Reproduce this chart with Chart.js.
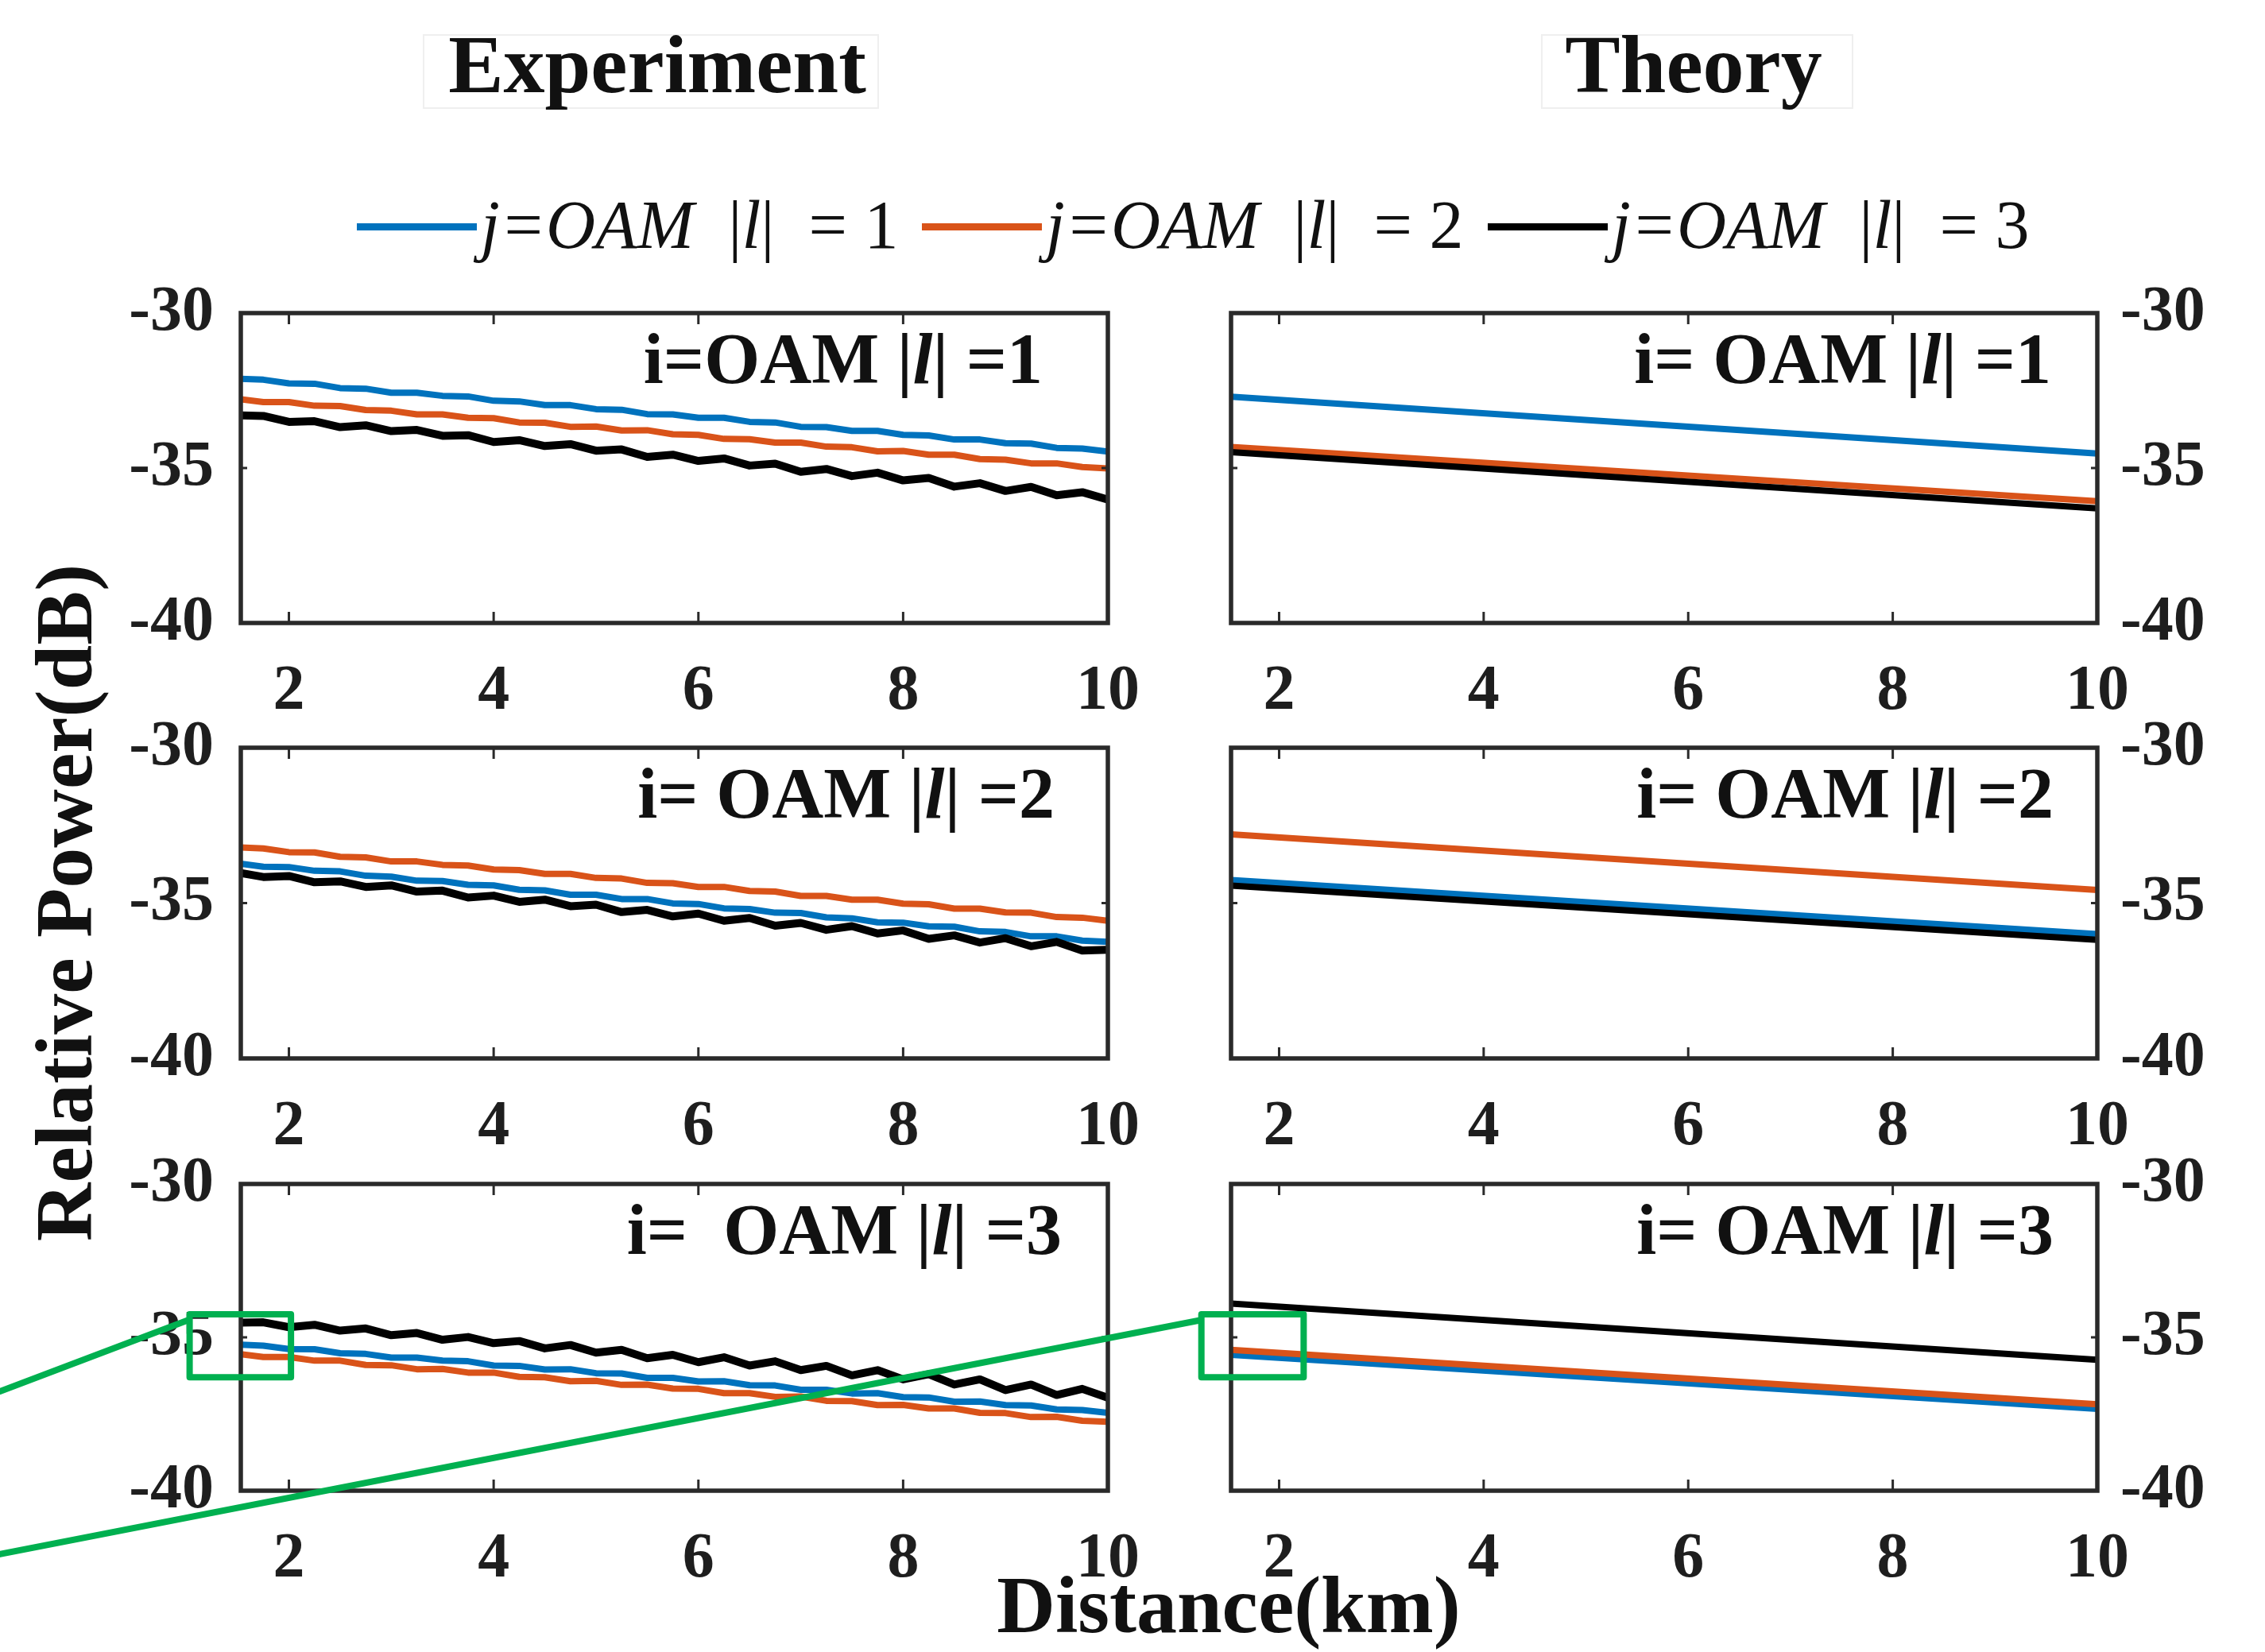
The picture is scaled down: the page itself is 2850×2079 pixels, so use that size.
<!DOCTYPE html>
<html>
<head>
<meta charset="utf-8">
<title>Relative power vs distance</title>
<script src="https://cdn.jsdelivr.net/npm/chart.js@4.4.0/dist/chart.umd.min.js"></script>
<style>
  html, body { margin: 0; padding: 0; background: #fff; }
  #page { position: relative; width: 2850px; height: 2079px; overflow: hidden; background: #fff;
          font-family: "Liberation Serif", "Times New Roman", serif; color: #111; }
  #page canvas { position: absolute; }
  .title { position: absolute; top: 29px; font-weight: bold; font-size: 104px; line-height: 1;
           transform: translateX(-50%); white-space: pre; }
  .titlebox { position: absolute; border: 2px solid #efefef; }
  .leg { position: absolute; top: 240px; height: 86px; display: flex; align-items: flex-start; }
  .leg .swatch { width: 151px; height: 9px; margin-top: 41px; margin-right: 5px; }
  .leg .txt { font-size: 86px; line-height: 1; white-space: pre; }
  .axis-x { position: absolute; left: 1546px; top: 1969px; font-weight: bold; font-size: 102px;
            line-height: 1; transform: translateX(-50%); white-space: pre; }
  .axis-y { position: absolute; left: 81px; top: 1136px; font-weight: bold; font-size: 102px;
            line-height: 1; transform: translate(-50%, -50%) rotate(-90deg); white-space: pre; }
  #overlay { z-index: 10; pointer-events: none; }
</style>
</head>
<body>
<div id="page">
  <div class="titlebox" style="left:532px; top:43px; width:570px; height:90px;"></div>
  <div class="titlebox" style="left:1939px; top:43px; width:389px; height:90px;"></div>
  <div class="title" style="left:827px;">Experiment</div>
  <div class="title" style="left:2131px;">Theory</div>
  <div id="legend"></div>
  <div class="axis-x">Distance(km)</div>
  <div class="axis-y">Relative Power(dB)</div>
</div>
<script>
// distance axis (km) and tick values
const xTicks = [2, 4, 6, 8, 10];
const yTicks = [-40, -35, -30];
const xMin = 1.53, xMax = 10;

// OAM modes: rows are the received mode i, series are the transmitted mode j
const modes = [1, 2, 3];
const seriesLabels = ['j=OAM |l| = 1', 'j=OAM |l| = 2', 'j=OAM |l| = 3'];
const colors = ['#0072BD', '#D95319', '#000000'];

// measured distances (km)
const xExp = [1.53, 1.75, 2, 2.25, 2.5, 2.75, 3, 3.25, 3.5, 3.75, 4, 4.25, 4.5, 4.75, 5, 5.25, 5.5,
  5.75, 6, 6.25, 6.5, 6.75, 7, 7.25, 7.5, 7.75, 8, 8.25, 8.5, 8.75, 9, 9.25, 9.5, 9.75, 10];

// experiment, i = 1
const expI1J1 = [-32.12, -32.15, -32.27, -32.28, -32.42, -32.44, -32.57, -32.57, -32.67, -32.69,
  -32.83, -32.85, -32.97, -32.97, -33.10, -33.12, -33.26, -33.27, -33.38, -33.38,
  -33.51, -33.53, -33.67, -33.68, -33.80, -33.80, -33.93, -33.95, -34.08, -34.08,
  -34.20, -34.21, -34.35, -34.37, -34.47];
const expI1J2 = [-32.78, -32.87, -32.87, -32.99, -33.00, -33.13, -33.15, -33.27, -33.27, -33.38,
  -33.39, -33.53, -33.54, -33.67, -33.66, -33.79, -33.78, -33.91, -33.93, -34.06,
  -34.07, -34.18, -34.18, -34.31, -34.33, -34.46, -34.45, -34.57, -34.57, -34.71,
  -34.73, -34.85, -34.85, -34.97, -35.01];
const expI1J3 = [-33.30, -33.32, -33.51, -33.49, -33.68, -33.62, -33.81, -33.77, -33.96, -33.94,
  -34.16, -34.10, -34.29, -34.23, -34.44, -34.40, -34.64, -34.57, -34.77, -34.69,
  -34.92, -34.86, -35.12, -35.03, -35.26, -35.15, -35.40, -35.32, -35.60, -35.49,
  -35.74, -35.61, -35.88, -35.78, -36.02];

// experiment, i = 2
const expI2J1 = [-33.73, -33.83, -33.84, -33.96, -33.98, -34.12, -34.15, -34.28, -34.29, -34.41,
  -34.43, -34.57, -34.59, -34.73, -34.73, -34.87, -34.87, -35.01, -35.03, -35.17,
  -35.19, -35.31, -35.32, -35.46, -35.49, -35.62, -35.63, -35.75, -35.76, -35.91,
  -35.93, -36.07, -36.07, -36.21, -36.25];
const expI2J2 = [-33.21, -33.24, -33.36, -33.37, -33.51, -33.53, -33.66, -33.66, -33.77, -33.79,
  -33.92, -33.94, -34.06, -34.06, -34.19, -34.21, -34.35, -34.36, -34.48, -34.48,
  -34.61, -34.63, -34.77, -34.77, -34.89, -34.89, -35.02, -35.04, -35.18, -35.18,
  -35.30, -35.31, -35.45, -35.47, -35.57];
const expI2J3 = [-34.03, -34.16, -34.13, -34.33, -34.30, -34.48, -34.43, -34.63, -34.60, -34.82,
  -34.76, -34.96, -34.89, -35.10, -35.05, -35.29, -35.22, -35.43, -35.34, -35.57,
  -35.48, -35.73, -35.64, -35.86, -35.74, -35.98, -35.88, -36.15, -36.04, -36.27,
  -36.13, -36.39, -36.25, -36.53, -36.50];

// experiment, i = 3
const expI3J1 = [-35.24, -35.27, -35.38, -35.39, -35.52, -35.54, -35.66, -35.66, -35.76, -35.78,
  -35.92, -35.93, -36.05, -36.04, -36.17, -36.18, -36.32, -36.32, -36.44, -36.43,
  -36.56, -36.57, -36.71, -36.71, -36.83, -36.82, -36.95, -36.96, -37.10, -37.09,
  -37.21, -37.22, -37.35, -37.37, -37.46];
const expI3J2 = [-35.55, -35.64, -35.64, -35.76, -35.76, -35.90, -35.91, -36.04, -36.03, -36.15,
  -36.15, -36.29, -36.30, -36.43, -36.42, -36.55, -36.54, -36.67, -36.68, -36.82,
  -36.82, -36.94, -36.93, -37.07, -37.08, -37.21, -37.20, -37.32, -37.32, -37.46,
  -37.47, -37.60, -37.59, -37.72, -37.75];
const expI3J3 = [-34.52, -34.51, -34.67, -34.59, -34.78, -34.71, -34.93, -34.86, -35.08, -34.99,
  -35.19, -35.12, -35.36, -35.25, -35.50, -35.41, -35.68, -35.57, -35.81, -35.65,
  -35.92, -35.78, -36.07, -35.93, -36.24, -36.07, -36.37, -36.20, -36.54, -36.37,
  -36.72, -36.54, -36.88, -36.68, -36.97];

// theory: straight lines, start and end of the distance range
const xTheory = [1.53, 10];
const thI1J1 = [-32.70, -34.53];
const thI1J2 = [-34.32, -36.07];
const thI1J3 = [-34.49, -36.30];
const thI2J1 = [-34.26, -36.00];
const thI2J2 = [-32.79, -34.58];
const thI2J3 = [-34.44, -36.18];
const thI3J1 = [-35.57, -37.33];
const thI3J2 = [-35.41, -37.18];
const thI3J3 = [-33.90, -35.73];

// zoom markers on the i = 3 panels (data units of each panel) and the pointer lines
const zoomBoxX = { exp: [1.03, 2.02], theory: [1.24, 2.24] };
const zoomBoxY = [-34.25, -36.30];
const pointerY = -34.45;                 // where the pointers meet the boxes
const pointerStartY = [-36.76, -42.07];  // where they leave the left edge (row 3 scale)

// page layout
const colLeft = [303, 1549];
const colWidth = [1091, 1090];
const rowTop = [394, 941, 1490];
const rowHeight = [390, 391, 386];
const expPrefix = ['i=OAM ', 'i= OAM ', 'i=  OAM '];
const thPrefix = ['i= OAM ', 'i= OAM ', 'i= OAM '];
const expLabelOffset = [82, 67, 58];
const thLabelOffset = [58, 55, 55];

const serif = '"Liberation Serif", "Times New Roman", serif';
Chart.defaults.font.family = serif;

function toPoints(xs, ys) {
    return xs.map((x, k) => ({ x: x, y: ys[k] }));
}

// inward tick marks and the box round the axes, like the original plot
const frameTicks = {
    id: 'frameTicks',
    afterDatasetsDraw(chart) {
        const ctx = chart.ctx, a = chart.chartArea;
        const x = chart.scales.x, y = chart.scales.y;
        ctx.save();
        ctx.strokeStyle = '#2a2a2a';
        ctx.lineWidth = 3;
        ctx.beginPath();
        xTicks.forEach((v) => {
            const px = x.getPixelForValue(v);
            if (px > a.right - 3) return;
            ctx.moveTo(px, a.bottom); ctx.lineTo(px, a.bottom - 14);
            ctx.moveTo(px, a.top); ctx.lineTo(px, a.top + 14);
        });
        yTicks.forEach((v) => {
            const py = y.getPixelForValue(v);
            if (py < a.top + 3 || py > a.bottom - 3) return;
            ctx.moveTo(a.left, py); ctx.lineTo(a.left + 8, py);
            ctx.moveTo(a.right, py); ctx.lineTo(a.right - 8, py);
        });
        ctx.stroke();
        ctx.lineWidth = 5.5;
        ctx.strokeRect(a.left, a.top, a.right - a.left, a.bottom - a.top);
        ctx.restore();
    }
};

// "i=OAM |l| =n" text in the upper right corner of each panel
const panelLabel = {
    id: 'panelLabel',
    afterDraw(chart, args, opts) {
        const ctx = chart.ctx, a = chart.chartArea;
        const runs = [
            { t: opts.prefix + '|', f: 'bold 90px ' + serif },
            { t: 'l', f: 'italic bold 90px ' + serif },
            { t: '| =' + opts.mode, f: 'bold 90px ' + serif }
        ];
        ctx.save();
        ctx.fillStyle = '#111';
        ctx.textBaseline = 'alphabetic';
        let total = 0;
        runs.forEach((r) => { ctx.font = r.f; r.w = ctx.measureText(r.t).width; total += r.w; });
        let px = a.right - opts.rightOffset - total;
        runs.forEach((r) => { ctx.font = r.f; ctx.fillText(r.t, px, a.top + 88); px += r.w; });
        ctx.restore();
    }
};

const page = document.getElementById('page');
const charts = {};

function buildPanel(key, col, row, xs, seriesList, prefix, labelOffset, lineWidths) {
    // room round the plot box so that tick label overflow never moves the chart area
    const padL = col === 0 ? 10 : 30, padR = col === 0 ? 95 : 10, padT = 95, padB = 10;
    const yW = 170, xH = 120;
    const canvas = document.createElement('canvas');
    canvas.width = padL + padR + yW + colWidth[col];
    canvas.height = padT + padB + xH + rowHeight[row];
    canvas.style.left = (col === 0 ? colLeft[0] - padL - yW : colLeft[1] - padL) + 'px';
    canvas.style.top = (rowTop[row] - padT) + 'px';
    page.appendChild(canvas);

    const tickFont = { family: serif, size: 80, weight: 'bold' };
    charts[key] = new Chart(canvas.getContext('2d'), {
        type: 'line',
        data: {
            datasets: seriesList.map((ys, j) => ({
                label: seriesLabels[j],
                data: toPoints(xs, ys),
                borderColor: colors[j],
                backgroundColor: colors[j],
                borderWidth: lineWidths[j],
                borderJoinStyle: 'round',
                pointRadius: 0,
                fill: false,
                tension: 0,
                order: 3 - j
            }))
        },
        options: {
            responsive: false,
            animation: false,
            devicePixelRatio: 1,
            layout: { padding: { left: padL, right: padR, top: padT, bottom: padB } },
            plugins: {
                legend: { display: false },
                tooltip: { enabled: false },
                panelLabel: { prefix: prefix, mode: modes[row], rightOffset: labelOffset }
            },
            scales: {
                x: {
                    type: 'linear',
                    min: xMin,
                    max: xMax,
                    afterBuildTicks: (s) => { s.ticks = xTicks.map((v) => ({ value: v })); },
                    afterFit: (s) => { s.height = xH; },
                    grid: { display: false, drawTicks: false },
                    border: { display: false },
                    ticks: { font: tickFont, color: '#1e1e1e', padding: 39, maxRotation: 0, autoSkip: false }
                },
                y: {
                    type: 'linear',
                    position: col === 0 ? 'left' : 'right',
                    min: -40,
                    max: -30,
                    afterBuildTicks: (s) => { s.ticks = yTicks.map((v) => ({ value: v })); },
                    afterFit: (s) => { s.width = yW; },
                    grid: { display: false, drawTicks: false },
                    border: { display: false },
                    ticks: {
                        font: tickFont, color: '#1e1e1e', padding: col === 0 ? 34 : 29,
                        callback: (v) => String(v)
                    }
                }
            }
        },
        plugins: [frameTicks, panelLabel]
    });
}

const expSets = [[expI1J1, expI1J2, expI1J3], [expI2J1, expI2J2, expI2J3], [expI3J1, expI3J2, expI3J3]];
const thSets = [[thI1J1, thI1J2, thI1J3], [thI2J1, thI2J2, thI2J3], [thI3J1, thI3J2, thI3J3]];

for (let r = 0; r < 3; r++) {
    buildPanel('exp' + r, 0, r, xExp, expSets[r], expPrefix[r], expLabelOffset[r], [8, 8, 10]);
    buildPanel('th' + r, 1, r, xTheory, thSets[r], thPrefix[r], thLabelOffset[r], [8, 8, 8]);
}

// legend above the panels
const legendLeft = [449, 1160, 1872];
const legend = document.getElementById('legend');
modes.forEach((m, j) => {
    const item = document.createElement('div');
    item.className = 'leg';
    item.style.left = legendLeft[j] + 'px';
    item.innerHTML = '<div class="swatch" style="background:' + colors[j] + '"></div>' +
        '<div class="txt"><i>j=OAM</i>  |<i>l</i>|  = ' + m + '</div>';
    legend.appendChild(item);
});

// green zoom markers drawn over the i = 3 panels
const overlay = document.createElement('canvas');
overlay.id = 'overlay';
overlay.width = 2850; overlay.height = 2079;
overlay.style.left = '0px'; overlay.style.top = '0px';
page.appendChild(overlay);
const octx = overlay.getContext('2d');
octx.strokeStyle = '#00B050';
octx.lineWidth = 8;
octx.lineJoin = 'round';
octx.lineCap = 'round';

function pagePoint(chart, xv, yv) {
    const c = chart.canvas;
    return [c.offsetLeft + chart.scales.x.getPixelForValue(xv), c.offsetTop + chart.scales.y.getPixelForValue(yv)];
}

[['exp2', zoomBoxX.exp], ['th2', zoomBoxX.theory]].forEach(([key, bx], k) => {
    const chart = charts[key];
    const p0 = pagePoint(chart, bx[0], zoomBoxY[0]);
    const p1 = pagePoint(chart, bx[1], zoomBoxY[1]);
    octx.strokeRect(p0[0], p0[1], p1[0] - p0[0], p1[1] - p0[1]);
    const end = pagePoint(chart, bx[0], pointerY);
    const start = pagePoint(charts.exp2, xMin, pointerStartY[k]);
    octx.beginPath();
    octx.moveTo(0, start[1]);
    octx.lineTo(end[0] - 3, end[1]);
    octx.stroke();
});
</script>
</body>
</html>
